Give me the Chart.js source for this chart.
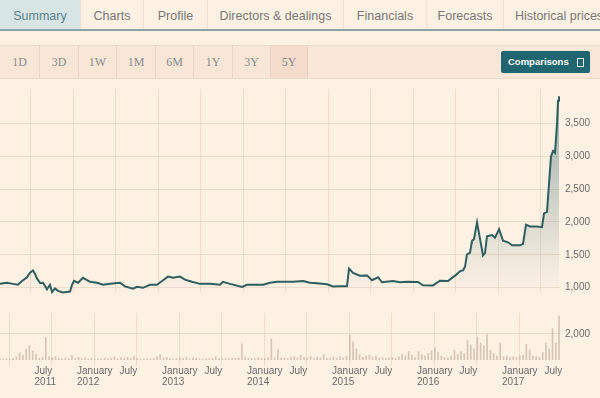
<!DOCTYPE html>
<html>
<head>
<meta charset="utf-8">
<script src="https://cdn.jsdelivr.net/npm/chart.js@4.4.1/dist/chart.umd.min.js"></script>
<style>
  html,body{margin:0;padding:0;}
  body{width:600px;height:398px;overflow:hidden;background:#fdf1e4;font-family:"Liberation Sans",Arial,sans-serif;position:relative;}
  #tabs{position:absolute;left:0;top:0;width:620px;height:29px;border-bottom:2px solid #8ea2a6;}
  .tab{position:absolute;top:0;height:29px;line-height:32px;font-size:12.5px;color:#777;text-align:center;border-right:1px solid #efe0d0;box-sizing:border-box;white-space:nowrap;}
  .tab.sel{background:#d8e5e5;color:#5a838e;}
  #band{position:absolute;left:0;top:45px;width:600px;height:32px;background:#f8e7d7;border-top:1px solid #eddbc9;border-bottom:1px solid #eddbc9;}
  .btn{position:absolute;top:0;height:32px;line-height:32px;width:38px;text-align:center;font-family:"Liberation Serif","DejaVu Serif",serif;font-size:12px;color:#8a8a8a;border-right:1px solid #ead5c2;box-sizing:border-box;}
  .btn.sel{background:#f3dccb;}
  #cmp{position:absolute;left:501px;top:51px;width:89px;height:22px;background:#1f6670;border-radius:2px;color:#fff;font-size:9.5px;font-weight:bold;line-height:22px;}
  #cmp span.t{position:absolute;left:7px;top:0;}
  #cmp span.i{position:absolute;left:76px;top:7px;width:5px;height:7px;border:1px solid #e8f0f0;}
  #pc{position:absolute;left:0;top:78px;}
  #vc{position:absolute;left:0;top:302px;}
</style>
</head>
<body>
<div id="tabs">
  <div class="tab sel" style="left:0;width:81px;">Summary</div>
  <div class="tab" style="left:81px;width:63px;">Charts</div>
  <div class="tab" style="left:144px;width:64px;">Profile</div>
  <div class="tab" style="left:208px;width:136px;">Directors &amp; dealings</div>
  <div class="tab" style="left:344px;width:83px;">Financials</div>
  <div class="tab" style="left:427px;width:77px;">Forecasts</div>
  <div class="tab" style="left:504px;width:110px;border-right:none;">Historical prices</div>
</div>
<div id="band">
  <div class="btn" style="left:0;width:40px;">1D</div>
  <div class="btn" style="left:40px;width:39px;">3D</div>
  <div class="btn" style="left:79px;width:38px;">1W</div>
  <div class="btn" style="left:117px;width:39px;">1M</div>
  <div class="btn" style="left:156px;width:38px;">6M</div>
  <div class="btn" style="left:194px;width:39px;">1Y</div>
  <div class="btn" style="left:233px;width:38px;">3Y</div>
  <div class="btn sel" style="left:271px;width:37px;">5Y</div>
</div>
<div id="cmp"><span class="t">Comparisons</span><span class="i"></span></div>
<canvas id="pc" width="600" height="226" style="width:600px;height:226px;"></canvas>
<canvas id="vc" width="600" height="96" style="width:600px;height:96px;"></canvas>
<script>
// ---- data (dates as decimal years) ----
const priceDates = [2011.141,2011.223,2011.294,2011.353,2011.400,2011.459,2011.494,2011.529,2011.553,2011.576,2011.612,2011.647,2011.694,2011.729,2011.753,2011.788,2011.823,2011.882,2011.965,2011.988,2012.012,2012.059,2012.117,2012.200,2012.282,2012.353,2012.435,2012.553,2012.612,2012.706,2012.753,2012.823,2012.906,2012.988,2013.059,2013.117,2013.176,2013.259,2013.317,2013.400,2013.494,2013.612,2013.729,2013.765,2013.847,2013.988,2014.047,2014.235,2014.317,2014.400,2014.588,2014.706,2014.788,2014.870,2014.988,2015.059,2015.141,2015.223,2015.247,2015.294,2015.376,2015.459,2015.517,2015.588,2015.635,2015.765,2015.847,2015.929,2016.059,2016.117,2016.235,2016.317,2016.412,2016.494,2016.553,2016.588,2016.612,2016.635,2016.670,2016.694,2016.717,2016.753,2016.776,2016.823,2016.847,2016.870,2016.929,2016.965,2017.012,2017.059,2017.117,2017.165,2017.259,2017.294,2017.329,2017.376,2017.459,2017.517,2017.541,2017.576,2017.623,2017.647,2017.670,2017.694,2017.706,2017.717];
const priceValues = [1056,1074,1056,1042,1101,1157,1227,1260,1208,1139,1070,1074,972,1042,930,986,949,926,940,1042,1101,1074,1148,1088,1074,1042,1056,1074,1018,982,1010,996,1042,1042,1111,1167,1148,1167,1121,1088,1056,1056,1042,1088,1056,1010,1042,1042,1074,1088,1088,1101,1074,1065,1050,1015,1018,1020,1288,1222,1181,1185,1111,1157,1080,1100,1080,1088,1085,1035,1032,1105,1100,1181,1250,1260,1320,1505,1528,1713,1737,1995,1829,1490,1528,1782,1800,1760,1890,1713,1690,1644,1644,1667,1959,1931,1931,1921,2130,2154,3000,3083,3055,3500,3847,3917];

// volume: one bar per fortnight starting at volStart
const volStart = 2011.141;
const volStep = 1/26;
const volValues = [90,70,110,80,130,250,550,380,800,1100,700,450,150,200,1750,250,180,260,120,90,160,100,350,120,200,90,160,70,120,60,110,90,160,80,120,250,90,160,120,200,110,300,120,90,70,110,90,120,250,420,160,200,120,90,110,160,120,200,90,160,120,90,70,110,90,120,250,90,120,110,90,120,110,160,1250,200,120,110,90,160,120,110,200,1600,200,800,120,160,110,200,250,160,380,200,160,300,120,200,160,420,120,160,200,120,250,160,300,1900,1400,850,400,200,300,380,200,300,160,200,120,160,200,120,250,420,300,650,380,200,650,420,300,500,700,950,600,300,200,160,300,750,420,650,500,1500,1150,850,1750,1300,1100,1950,750,500,300,1300,250,300,200,250,200,300,380,1200,750,300,250,200,600,1300,850,2400,1300,3400];

const xTicks = [2011.5,2012,2012.5,2013,2013.5,2014,2014.5,2015,2015.5,2016,2016.5,2017,2017.5];
const priceTicks = [1000,1500,2000,2500,3000,3500];
const volTicks = [2000];

const X_MIN = 2011.141, X_MAX = 2017.729;
const GRID = 'rgba(226,204,182,0.55)';
const TICK_COLOR = '#6b6b6b';
const fmt = v => v.toLocaleString('en-US');

const fixedWidth = s => { s.width = 40; };

function xLabel(v){
  const yr = Math.floor(v + 1e-6);
  const isJan = Math.abs(v - yr) < 0.01;
  if (isJan) return ['January', String(yr)];
  if (yr === 2011) return ['July', String(yr)];
  return 'July';
}

// ---- price chart (chart area: page y 80 .. 304) ----
new Chart(document.getElementById('pc'), {
  type: 'line',
  data: {
    datasets: [{
      data: priceDates.map((d,i)=>({x:d, y:priceValues[i]})),
      borderColor: '#2f5e5f',
      borderWidth: 2,
      pointRadius: 0,
      tension: 0,
      clip: 4,
      fill: 'start',
      backgroundColor: (ctx) => {
        const ch = ctx.chart; const a = ch.chartArea;
        if (!a) return 'rgba(0,0,0,0)';
        const g = ch.ctx.createLinearGradient(0, a.top, 0, a.bottom);
        g.addColorStop(0, 'rgba(110,145,145,0.72)');
        g.addColorStop(0.9, 'rgba(110,145,145,0.05)');
        g.addColorStop(1, 'rgba(110,145,145,0)');
        return g;
      }
    }]
  },
  options: {
    responsive: false, animation: false, events: [],
    layout: { padding: { top: 2, left: 0, right: 0, bottom: 0 } },
    plugins: { legend: { display: false }, tooltip: { enabled: false } },
    scales: {
      x: {
        type: 'linear', min: X_MIN, max: X_MAX,
        afterBuildTicks: s => { s.ticks = xTicks.map(v=>({value:v})); },
        ticks: { display: false },
        grid: { color: GRID, drawTicks: false, lineWidth: 1 },
        border: { display: false }
      },
      y: {
        position: 'right', min: 916.7, max: 4027.8,
        afterBuildTicks: s => { s.ticks = priceTicks.map(v=>({value:v})); },
        afterFit: fixedWidth,
        ticks: { crossAlign: 'near', padding: 5, color: TICK_COLOR, font: { family: 'Liberation Sans', size: 10 }, callback: v => fmt(v) },
        grid: { color: GRID, drawTicks: false },
        border: { display: false }
      }
    }
  }
});

// ---- volume chart (chart area: page y 304 .. 360) ----
new Chart(document.getElementById('vc'), {
  type: 'bar',
  data: {
    datasets: [{
      data: volValues.map((v,i)=>({x: volStart + i*volStep, y: v})),
      backgroundColor: 'rgba(196,178,162,0.7)',
      barThickness: 1,
      borderWidth: 0
    }]
  },
  options: {
    responsive: false, animation: false, events: [],
    layout: { padding: { top: 2, left: 0, right: 0, bottom: 0 } },
    plugins: { legend: { display: false }, tooltip: { enabled: false } },
    scales: {
      x: {
        type: 'linear', min: X_MIN, max: X_MAX, offset: false,
        afterBuildTicks: s => { s.ticks = xTicks.map(v=>({value:v})); },
        afterFit: s => { s.height = 38; },
        ticks: { align: 'start', labelOffset: 4, padding: 0, maxRotation: 0, autoSkip: false, color: TICK_COLOR,
                 font: { family: 'Liberation Sans', size: 10, lineHeight: 1.1 }, callback: v => xLabel(v) },
        grid: { color: GRID, drawTicks: true, tickLength: 6, tickColor: GRID },
        border: { display: false }
      },
      y: {
        position: 'right', min: 0, max: 3613,
        afterBuildTicks: s => { s.ticks = volTicks.map(v=>({value:v})); },
        afterFit: fixedWidth,
        ticks: { crossAlign: 'near', padding: 5, color: TICK_COLOR, font: { family: 'Liberation Sans', size: 10 }, callback: v => fmt(v) },
        grid: { color: GRID, drawTicks: false },
        border: { display: false }
      }
    }
  }
});
</script>
</body>
</html>
